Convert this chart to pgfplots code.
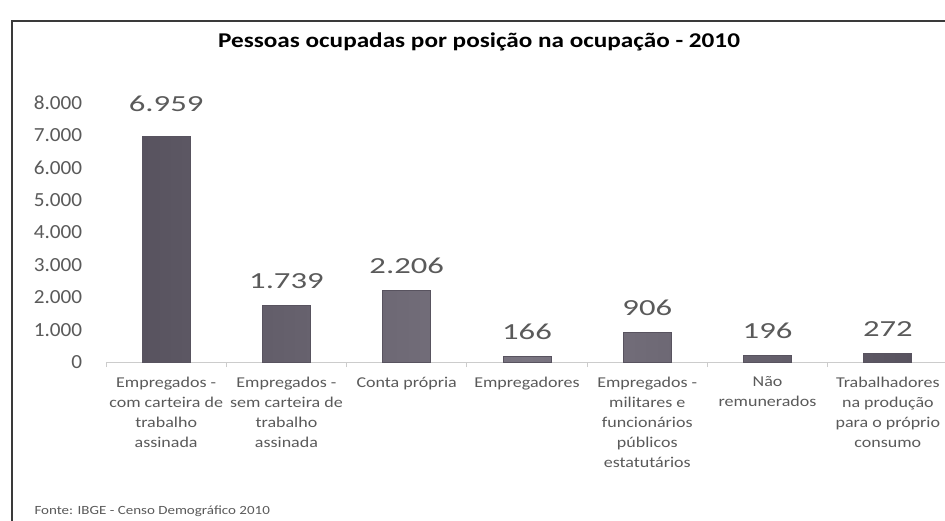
\documentclass[border=0pt]{standalone}
\usepackage{pgfplots}
\pgfplotsset{compat=1.18}
\usepackage{fontspec}
\setmainfont{Carlito}
\newfontfamily\wide[FakeStretch=1.2]{Carlito}
\newfontfamily\wider[FakeStretch=1.42]{Carlito}
\newfontfamily\ytfont[FakeStretch=1.06]{Carlito}
\definecolor{barD}{HTML}{58535F}
\definecolor{barL}{HTML}{7A7581}
\definecolor{txt}{HTML}{5A5A5A}
\definecolor{frame}{HTML}{3A3A3A}
\pgfplotstableread{
x y off
0 6959 21
1 1739 13
2 2206 13
3 166 13
4 906 13
5 196 13
6 272 13
}\datatable
\begin{document}
\begin{tikzpicture}[x=1pt,y=1pt]
\useasboundingbox (0,0) rectangle (945,520);
\fill[white] (0,0) rectangle (945,520);
\draw[frame,line width=2pt] (12,-5) -- (12,499) -- (950,499);
\node[font=\fontsize{21}{21}\wide\bfseries] at (479,478) {Pessoas ocupadas por posição na ocupação - 2010};
\node[font=\fontsize{12.5}{12.5}\wide,text=txt,anchor=west] at (31,9) {Fonte: IBGE - Censo Demográfico 2010};
\begin{axis}[
  at={(106pt,158pt)}, anchor=south west,
  scale only axis, width=842pt, height=259pt,
  xmin=-0.5, xmax=6.5, ymin=0, ymax=8000,
  ytick={0,1000,...,8000},
  scaled y ticks=false,
  /pgf/number format/1000 sep={.},
  /pgf/number format/assume math mode=true,
  axis y line*=left, y axis line style={draw=none},
  axis x line*=bottom, x axis line style={draw=gray!40, line width=0.8pt},
  ytick style={draw=none},
  xtick={0,...,6}, major x tick style={draw=none},
  minor xtick={-0.5,0.5,1.5,2.5,3.5,4.5,5.5},
  minor x tick style={draw=gray!40, line width=0.8pt},
  minor tick length=5pt, tick align=outside,
  yticklabel style={font=\fontsize{20}{20}\ytfont, text=txt, xshift=-16pt},
  xticklabel style={font=\fontsize{15}{20}\wide, text=txt, align=center, yshift=-7pt},
  xticklabels={{Empregados -\\com carteira de\\trabalho\\assinada},
               {Empregados -\\sem carteira de\\trabalho\\assinada},
               {Conta própria},
               {Empregadores},
               {Empregados -\\militares e\\funcionários\\públicos\\estatutários},
               {Não\\remunerados},
               {Trabalhadores\\na produção\\para o próprio\\consumo}},
  clip=false,
]
\addplot[ybar, bar width=48pt, draw=barD, line width=0.8pt, left color=barD, right color=barD, middle color=barL,
  visualization depends on={\thisrow{off}\as\off},
  nodes near coords, nodes near coords style={font=\fontsize{23}{23}\wider, text=txt, yshift=\off pt}]
  table[x=x,y=y] {\datatable};
\end{axis}
\end{tikzpicture}
\end{document}
